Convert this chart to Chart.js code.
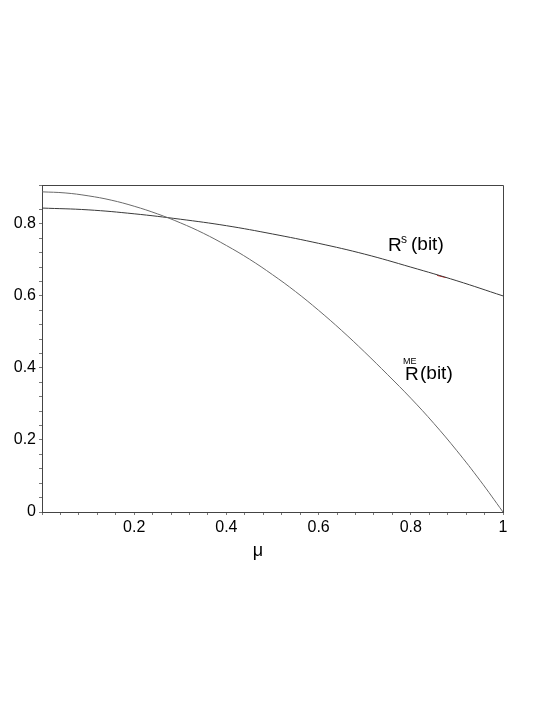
<!DOCTYPE html>
<html>
<head>
<meta charset="utf-8">
<script src="https://cdn.jsdelivr.net/npm/chart.js@4/dist/chart.umd.min.js"></script>
<style>
  html, body { margin: 0; padding: 0; background: #fff; }
  #wrap { width: 545px; height: 705px; }
</style>
</head>
<body>
<div id="wrap"><canvas id="c" width="545" height="705"></canvas></div>
<script>
// mu values and curve readings
const muME = [0, 0.05, 0.1, 0.15, 0.2, 0.25, 0.3, 0.35, 0.4, 0.45, 0.5, 0.55, 0.6, 0.65, 0.7, 0.75, 0.8, 0.85, 0.9, 0.95, 1.0];
const rME  = [0.889, 0.886, 0.878, 0.866, 0.849, 0.828, 0.803, 0.774, 0.740, 0.702, 0.659, 0.612, 0.560, 0.504, 0.444, 0.381, 0.316, 0.246, 0.170, 0.088, 0.0];
const muS  = [0, 0.1, 0.2, 0.3, 0.4, 0.5, 0.6, 0.7, 0.8, 0.9, 1.0];
const rS   = [0.844, 0.839, 0.828, 0.813, 0.795, 0.772, 0.746, 0.716, 0.680, 0.642, 0.600];
const muRed = [0.857, 0.876];
const rRed  = [0.657, 0.651];
const xMajorLabels = [0.2, 0.4, 0.6, 0.8, 1];
const yMajorLabels = [0, 0.2, 0.4, 0.6, 0.8];

const FONT = '"Liberation Sans", Arial, Helvetica, sans-serif';
const pts = (xs, ys) => xs.map((x, i) => ({x: x, y: ys[i]}));
const isMajor = (v, list) => list.some(m => Math.abs(v - m) < 1e-6);
const fmt = v => (Math.abs(v) < 1e-9 ? '0' : (Math.abs(v - 1) < 1e-9 ? '1' : v.toFixed(1)));

const decor = {
  id: 'decor',
  afterDraw(chart) {
    const ctx = chart.ctx, a = chart.chartArea;
    ctx.save();
    ctx.strokeStyle = '#444';
    ctx.lineWidth = 1;
    ctx.beginPath();
    ctx.moveTo(a.left, a.top + 0.5);
    ctx.lineTo(a.right + 0.5, a.top + 0.5);
    ctx.lineTo(a.right + 0.5, a.bottom);
    ctx.stroke();

    ctx.fillStyle = '#000';
    ctx.textBaseline = 'alphabetic';
    ctx.textAlign = 'left';
    // R^s (bit)
    ctx.font = '19px ' + FONT;
    ctx.fillText('R', 388, 251);
    ctx.font = '12px ' + FONT;
    ctx.fillText('s', 401, 243);
    ctx.font = '19px ' + FONT;
    ctx.fillText('(bit)', 411, 250);
    // R^ME (bit)
    ctx.font = '9px ' + FONT;
    ctx.fillText('ME', 403, 364);
    ctx.font = '19px ' + FONT;
    ctx.fillText('R', 405, 380);
    ctx.fillText('(bit)', 420, 379);
    // axis title
    ctx.textAlign = 'center';
    ctx.font = '18px ' + FONT;
    ctx.fillText('\u03bc', 258, 556);
    ctx.restore();
  }
};

new Chart(document.getElementById('c'), {
  type: 'scatter',
  data: {
    datasets: [
      { label: 'R^ME(bit)', data: pts(muME, rME), showLine: true, borderColor: '#6a6a6a', borderWidth: 1, pointRadius: 0, tension: 0.4, fill: false },
      { label: 'R^s(bit)', data: pts(muS, rS), showLine: true, borderColor: '#3a3a3a', borderWidth: 1, pointRadius: 0, tension: 0.4, fill: false },
      { label: 'mark', data: pts(muRed, rRed), showLine: true, borderColor: '#e02020', borderWidth: 1, pointRadius: 0, fill: false }
    ]
  },
  options: {
    responsive: false,
    animation: false,
    devicePixelRatio: 1,
    layout: { padding: { top: 185, right: 42, bottom: 0, left: 0 } },
    plugins: { legend: { display: false }, tooltip: { enabled: false } },
    scales: {
      x: {
        type: 'linear', min: 0, max: 1, position: 'bottom',
        afterFit: s => { s.height = 193; },
        ticks: {
          stepSize: 0.04, autoSkip: false, maxRotation: 0, minRotation: 0,
          color: '#000', padding: 3, font: { family: FONT, size: 16 },
          callback: v => (v > 1e-6 && isMajor(v, xMajorLabels)) ? fmt(v) : ''
        },
        grid: { drawOnChartArea: false, drawTicks: true, tickLength: 3, color: '#777' },
        border: { color: '#444', width: 1 }
      },
      y: {
        type: 'linear', min: 0, max: 0.908,
        afterFit: s => { s.width = 42; },
        ticks: {
          stepSize: 0.04, autoSkip: false,
          color: '#000', padding: 3, font: { family: FONT, size: 16 },
          callback: v => isMajor(v, yMajorLabels) ? fmt(v) : ''
        },
        grid: { drawOnChartArea: false, drawTicks: true, tickLength: 3, color: '#777' },
        border: { color: '#444', width: 1 }
      }
    }
  },
  plugins: [decor]
});
</script>
</body>
</html>
